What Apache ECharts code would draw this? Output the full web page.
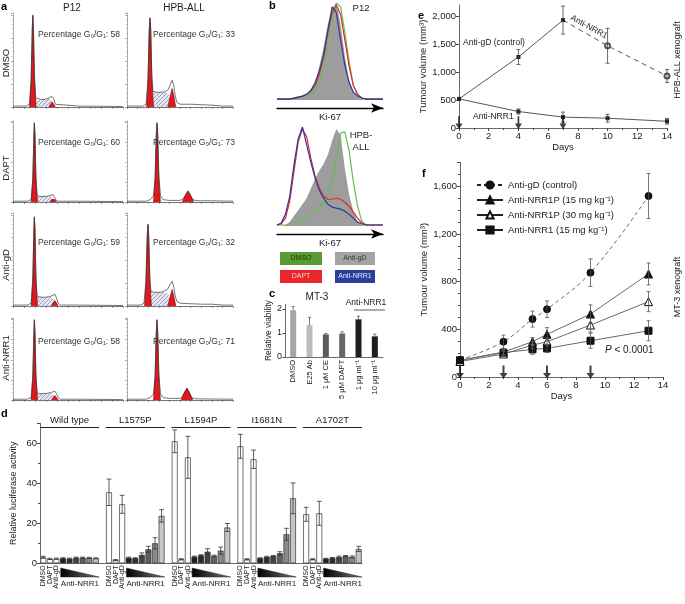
<!DOCTYPE html>
<html><head><meta charset="utf-8">
<script src="https://cdn.jsdelivr.net/npm/echarts@6/dist/echarts.min.js"></script>
<style>html,body{margin:0;padding:0;background:#fff}#c{width:685px;height:604px}</style>
</head><body><div id="c"></div><script>
// ===== Panel a: cell-cycle histograms (channel, count %) =====
const aCols = ['P12', 'HPB-ALL'];
const aRows = ['DMSO', 'DAPT', 'Anti-gD', 'Anti-NRR1'];
const aPctP12 = [58, 60, 59, 58];
const aPctHPB = [33, 73, 32, 71];

const P12_DMSO_line = [[0,1],[12,1],[15,3],[16.5,30],[17.5,85],[18,100],[18.6,85],[19.5,35],[20.5,10],[22,8],[26,8],[30,8.5],[33,10],[35.5,11.5],[37,9],[38.5,3],[40,1],[60,1],[100,0.5]];
const P12_DMSO_g1 = [[15,0],[16.5,28],[17.5,83],[18,99],[18.6,83],[19.5,30],[21,0]];
const P12_DMSO_s = [[19.5,0],[20.3,8],[26,8],[30,8.5],[33,9],[35,7],[36.5,3],[37.5,0]];
const P12_DMSO_g2 = [[32.5,0],[34,3],[35.5,5.5],[37,3],[38.5,0]];

const P12_DAPT_line = [[0,1],[13,1],[16.5,3],[18,30],[19,85],[19.4,100],[20,85],[20.8,35],[21.8,9],[24,7],[28,7],[32,7.5],[34.5,8.5],[36.4,9.5],[37.8,7],[39,2.5],[41,1],[60,1],[100,0.5]];
const P12_DAPT_g1 = [[16.5,0],[18,28],[19,83],[19.4,99],[20,83],[20.8,30],[22.3,0]];
const P12_DAPT_s = [[21,0],[21.8,7],[28,7],[32,7.3],[34.5,7.5],[36,5.5],[37.5,2],[38.5,0]];
const P12_DAPT_g2 = [[33.5,0],[35,3],[36.4,5],[38,3],[39.5,0]];

const P12_gD_line = [[0,1],[13,1],[16.5,3],[18,30],[19,85],[19.4,98],[20,85],[20.8,35],[21.8,11],[24,10],[28,9.5],[32,10],[35,11],[38,13],[39.5,9],[41,3],[43,1],[60,1],[100,0.5]];
const P12_gD_g1 = [[16.5,0],[18,28],[19,83],[19.4,97],[20,83],[20.8,30],[22.3,0]];
const P12_gD_s = [[21,0],[21.8,10],[28,9.5],[32,10],[35,10],[37,7.5],[39,3],[40,0]];
const P12_gD_g2 = [[35,0],[36.5,3.5],[38,6],[39.5,3.5],[41,0]];

const P12_NRR1_line = [[0,1],[13,1],[16.5,3],[18,30],[19,85],[19.4,100],[20,85],[20.8,35],[21.8,9],[24,8],[28,8],[32,8.5],[35,9.5],[38,11],[39.5,8],[41,3],[43,1],[60,1],[100,0.5]];
const P12_NRR1_g1 = [[16.5,0],[18,28],[19,83],[19.4,99],[20,83],[20.8,30],[22.3,0]];
const P12_NRR1_s = [[21,0],[21.8,8],[28,8],[32,8.3],[35,8.5],[37,6],[39,2],[40,0]];
const P12_NRR1_g2 = [[35,0],[36.5,3],[38,5.5],[39.5,3],[41,0]];

const HPB_DMSO_line = [[0,1],[15,1],[18,3],[19.8,30],[21,85],[21.7,97],[22.4,85],[23.4,35],[24.5,17],[28,16],[32,16],[36,16.5],[39,19],[41,25],[42.5,29],[44,24],[45.5,12],[47,5],[50,3],[60,3],[70,2.5],[80,2],[90,1],[100,1]];
const HPB_DMSO_g1 = [[18.5,0],[19.8,28],[21,83],[21.7,96],[22.4,83],[23.4,30],[25,0]];
const HPB_DMSO_s = [[23.5,0],[24.5,16],[28,16],[32,16],[36,16],[39,15],[41,10],[42,4],[42.5,0]];
const HPB_DMSO_g2 = [[38.5,0],[40.5,10],[42.5,20],[44,13],[46,0]];

const HPB_DAPT_line = [[0,1],[18,1],[22,3],[25,8],[26.5,30],[27.6,85],[28.3,100],[29,85],[30,35],[31.5,8],[34,3],[40,2],[50,2],[53,4],[55.5,10],[57.5,14],[59.5,10],[62,3],[66,1.5],[80,1.5],[100,1]];
const HPB_DAPT_g1 = [[25,0],[26.5,28],[27.6,83],[28.3,99],[29,83],[30,30],[31.5,0]];
const HPB_DAPT_s = [];
const HPB_DAPT_g2 = [[52,0],[55,8],[57.5,13.5],[60,8],[63,0]];

const HPB_gD_line = [[0,1],[13,1],[16,3],[17.9,28],[19.1,78],[19.8,90],[20.5,78],[21.5,33],[22.6,16],[26,15],[30,15],[34,15.5],[38,18],[41,24],[42.5,27],[44,22],[45.5,11],[47,5],[50,3],[60,2.5],[70,2],[80,2],[90,1],[100,1]];
const HPB_gD_g1 = [[16.6,0],[17.9,26],[19.1,76],[19.8,89],[20.5,76],[21.5,28],[23,0]];
const HPB_gD_s = [[21.5,0],[22.6,15],[26,15],[30,15],[34,15],[38,14],[41,9],[42.5,0]];
const HPB_gD_g2 = [[38.5,0],[40.5,9],[42.5,18],[44,12],[46,0]];

const HPB_NRR1_line = [[0,1],[18,1],[22,3],[25,8],[26.5,30],[27.6,85],[28.3,100],[29,85],[30,35],[31.5,8],[34,3],[40,2],[50,2],[52,4],[54.5,10],[56.6,15],[58.5,10],[61,3],[65,1.5],[80,1.2],[100,1]];
const HPB_NRR1_g1 = [[25,0],[26.5,28],[27.6,83],[28.3,99],[29,83],[30,30],[31.5,0]];
const HPB_NRR1_s = [];
const HPB_NRR1_g2 = [[51,0],[54,9],[56.6,14.5],[59,9],[62,0]];

// ===== Panel b: Ki-67 histograms =====
const bX = [0,4,8,12,16,20,24,28,32,36,40,44,48,52,56,60,64,68,72,76,80,84,88,92,96,100];
const bP12_antigD = [0,0,0,1,2,3,4,6,10,18,35,55,78,94,100,78,45,20,8,3,1,0,0,0,0,0];
const bP12_DMSO   = [1,1,1,1,1,2,3,4,6,10,18,35,60,85,100,96,70,40,15,5,2,1,1,1,1,1];
const bP12_DAPT   = [1,1,1,1,2,3,4,6,9,15,27,45,70,90,98,88,62,35,15,6,2,1,1,1,1,1];
const bP12_NRR1   = [1,1,1,1,2,3,4,6,10,18,30,46,72,96,90,62,36,18,8,4,2,1,1,1,1,1];
const bHPB_antigD = [0,0,1,4,10,16,22,28,38,48,56,63,72,86,98,92,58,32,15,4,1,0,0,0,0,0];
const bHPB_DMSO   = [1,1,1,1,2,4,6,9,12,15,19,25,33,45,70,94,95,76,45,20,5,1,1,1,1,1];
const bHPB_DAPT   = [1,2,8,25,55,85,98,90,68,50,38,30,27,27,28,27,24,20,14,8,3,1,1,1,1,1];
const bHPB_NRR1   = [1,3,12,30,62,88,100,82,64,48,36,28,22,19,18,17,15,12,8,4,2,1,1,1,1,1];
const bLegend = ['DMSO', 'Anti-gD', 'DAPT', 'Anti-NRR1'];

// ===== Panel c: MT-3 viability =====
const cCats = ['DMSO', 'E25 Ab', '1 μM CE', '5 μM DAPT', '1 μg ml⁻¹', '10 μg ml⁻¹'];
const cVals = [1.95, 1.33, 0.94, 0.98, 1.57, 0.86];
const cErr  = [0.15, 0.32, 0.04, 0.07, 0.13, 0.09];

// ===== Panel d: luciferase activity =====
const dGroups = ['Wild type', 'L1575P', 'L1594P', 'I1681N', 'A1702T'];
const dConds = ['DMSO', 'DAPT', 'Anti-gD', 'NRR1-1', 'NRR1-2', 'NRR1-3', 'NRR1-4', 'NRR1-5', 'NRR1-6'];
const dWT     = [3.0, 2.2, 2.3, 2.5, 2.3, 2.8, 2.8, 2.7, 2.5];
const dL1575P = [35.5, 1.6, 29.5, 2.8, 2.5, 4.2, 7.0, 10.0, 23.7];
const dL1594P = [61.0, 2.0, 53.0, 3.3, 4.0, 5.8, 3.7, 6.3, 17.9];
const dI1681N = [58.5, 2.0, 52.0, 2.5, 3.2, 3.6, 5.0, 14.5, 32.5];
const dA1702T = [24.5, 2.0, 25.0, 2.3, 2.7, 3.1, 3.6, 3.2, 7.2];
const dWTErr     = [0.5, 0.3, 0.3, 0.3, 0.3, 0.3, 0.3, 0.3, 0.2];
const dL1575PErr = [6.6, 0.3, 4.5, 0.3, 0.3, 1.0, 1.5, 2.8, 3.1];
const dL1594PErr = [5.7, 0.3, 10.5, 0.3, 0.3, 1.5, 0.4, 1.8, 2.0];
const dI1681NErr = [6.0, 0.3, 4.6, 0.3, 0.3, 0.3, 0.8, 3.0, 7.7];
const dA1702TErr = [3.5, 0.3, 6.0, 0.2, 0.2, 0.5, 0.3, 0.5, 1.3];

// ===== Panel e: HPB-ALL xenograft =====
const eCtrlDays = [0, 4, 7];
const eCtrlVals = [520, 1270, 1930];
const eCtrlErr  = [0, 135, 250];
const eSwitchDays = [7, 10, 14];
const eSwitchVals = [1930, 1470, 930];
const eSwitchErr  = [0, 312, 116];
const eNrrDays = [0, 4, 7, 10, 14];
const eNrrVals = [520, 295, 195, 175, 120];
const eNrrErr  = [0, 45, 90, 70, 50];
const eDoseDays = [0, 4, 7];

// ===== Panel f: MT-3 xenograft =====
const fDays = [0, 3, 5, 6, 9, 13];
const fCtrl   = [142, 296, 486, 568, 875, 1518];
const fCtrlErr= [0, 55, 67, 70, 116, 189];
const fP15    = [140, 210, 296, 358, 528, 864];
const fP15Err = [0, 20, 35, 56, 77, 92];
const fP30    = [130, 193, 268, 296, 436, 632];
const fP30Err = [0, 20, 30, 35, 60, 84];
const fN15    = [140, 204, 232, 240, 304, 388];
const fN15Err = [0, 20, 42, 35, 63, 84];
const fNames = ['Anti-gD (control)', 'Anti-NRR1P (15 mg kg⁻¹)', 'Anti-NRR1P (30 mg kg⁻¹)', 'Anti-NRR1 (15 mg kg⁻¹)'];
const fDoseDays = [0, 3, 6, 9];

// ================= build =================
const FONT = 'Liberation Sans, Arial, Helvetica, sans-serif';
const chart = echarts.init(document.getElementById('c'));
const grids = [], xAxes = [], yAxes = [], series = [], graphics = [];
function addGrid(g, x, y) {
  grids.push(Object.assign({ outerBoundsMode: 'none', containLabel: false, show: false }, g));
  const i = grids.length - 1; x.gridIndex = i; y.gridIndex = i; xAxes.push(x); yAxes.push(y); return i;
}
function txt(x, y, text, o) {
  o = o || {};
  graphics.push({ type: 'text', x: x, y: y, rotation: o.rot || 0, silent: true, z: 100,
    style: { text: text, font: (o.bold ? 'bold ' : '') + (o.italic ? 'italic ' : '') + (o.size || 9) + 'px ' + FONT,
      fill: o.color || '#222', textAlign: o.align || 'left', textVerticalAlign: o.va || 'middle', lineHeight: o.lh } });
}
function errSeries(ai, pts, cap, color, lowerCap, lw) {
  return { type: 'custom', xAxisIndex: ai, yAxisIndex: ai, data: pts, silent: true, z: 6, clip: false,
    renderItem: function (p, api) {
      const x = api.value(0), lo = api.value(1), hi = api.value(2);
      const a = api.coord([x, hi]), b = api.coord([x, lo]);
      const st = { stroke: color, lineWidth: lw || 0.8 };
      const ch = [{ type: 'line', shape: { x1: a[0], y1: a[1], x2: b[0], y2: b[1] }, style: st },
                  { type: 'line', shape: { x1: a[0] - cap, y1: a[1], x2: a[0] + cap, y2: a[1] }, style: st }];
      if (lowerCap) ch.push({ type: 'line', shape: { x1: b[0] - cap, y1: b[1], x2: b[0] + cap, y2: b[1] }, style: st });
      return { type: 'group', children: ch };
    } };
}
// hatch pattern
const hc = document.createElement('canvas'); hc.width = 4; hc.height = 4;
(function () { const g = hc.getContext('2d'); g.fillStyle = '#e6e6f3'; g.fillRect(0, 0, 4, 4);
  g.strokeStyle = '#8e8eb6'; g.lineWidth = 0.8; g.beginPath(); g.moveTo(0, 4); g.lineTo(4, 0); g.stroke(); })();

// ---- panel a ----
const aHist = [
  [P12_DMSO_line, P12_DMSO_g1, P12_DMSO_s, P12_DMSO_g2, HPB_DMSO_line, HPB_DMSO_g1, HPB_DMSO_s, HPB_DMSO_g2],
  [P12_DAPT_line, P12_DAPT_g1, P12_DAPT_s, P12_DAPT_g2, HPB_DAPT_line, HPB_DAPT_g1, HPB_DAPT_s, HPB_DAPT_g2],
  [P12_gD_line, P12_gD_g1, P12_gD_s, P12_gD_g2, HPB_gD_line, HPB_gD_g1, HPB_gD_s, HPB_gD_g2],
  [P12_NRR1_line, P12_NRR1_g1, P12_NRR1_s, P12_NRR1_g2, HPB_NRR1_line, HPB_NRR1_g1, HPB_NRR1_s, HPB_NRR1_g2]
];
const colLeft = [13, 127], colWidth = [110, 106];
const rowTop = [13, 121, 213, 318], rowBot = [107, 202, 306, 400];
const aAxisStyle = { color: '#555', width: 0.8 };
for (let r = 0; r < 4; r++) for (let c = 0; c < 2; c++) {
  const gi = addGrid({ left: colLeft[c], width: colWidth[c], top: rowTop[r], height: rowBot[r] - rowTop[r] },
    { type: 'value', min: 0, max: 100, interval: 10, axisLine: { lineStyle: aAxisStyle },
      axisTick: { length: 2, lineStyle: { color: '#555', width: 0.6 } },
      minorTick: { show: true, splitNumber: 2, length: 1.5, lineStyle: { color: '#777', width: 0.5 } },
      axisLabel: { show: false }, splitLine: { show: false } },
    { type: 'value', min: 0, max: 102, interval: 25, axisLine: { show: true, lineStyle: { color: '#888', width: 0.7 } },
      axisTick: { show: true, length: 2, lineStyle: { color: '#777', width: 0.6 } },
      minorTick: { show: true, splitNumber: 5, length: 1.2, lineStyle: { color: '#999', width: 0.5 } },
      axisLabel: { show: false }, splitLine: { show: false } });
  const h = aHist[r]; const o = c * 4;
  series.push({ type: 'line', xAxisIndex: gi, yAxisIndex: gi, data: h[o + 2], symbol: 'none', silent: true, z: 1,
    lineStyle: { width: 0 }, areaStyle: { color: { image: hc, repeat: 'repeat' }, opacity: 1 } });
  [h[o + 1], h[o + 3]].forEach(function (d) {
    series.push({ type: 'line', xAxisIndex: gi, yAxisIndex: gi, data: d, symbol: 'none', silent: true, z: 2,
      lineStyle: { color: '#6a0c0c', width: 0.6 }, areaStyle: { color: '#e2181f', opacity: 1 } });
  });
  series.push({ type: 'line', xAxisIndex: gi, yAxisIndex: gi, data: h[o], symbol: 'none', silent: true, z: 3,
    lineStyle: { color: '#3a3a3a', width: 0.7 } });
  const pct = c === 0 ? aPctP12[r] : aPctHPB[r];
  txt(c === 0 ? 38 : 153, [35, 143, 243, 342][r], 'Percentage G₀/G₁: ' + pct, { size: 8.5, color: '#333' });
}
txt(1, 7, 'a', { bold: true, size: 11, color: '#000' });
txt(72, 8, aCols[0], { align: 'center', size: 10 });
txt(184, 8, aCols[1], { align: 'center', size: 10 });
[63, 168, 265, 358].forEach(function (y, i) { txt(6, y, aRows[i], { align: 'center', rot: Math.PI / 2, size: 9.5 }); });

// ---- panel b ----
const bColors = { DMSO: '#67bd47', antigD: '#9d9d9d', DAPT: '#e5262d', NRR1: '#2b3a9b' };
function bPanel(top, bottom, gd, dm, da, nr) {
  const gi = addGrid({ left: 277, width: 106, top: top, height: bottom - top },
    { type: 'value', min: 0, max: 100, offset: 8, axisTick: { show: false }, axisLabel: { show: false }, splitLine: { show: false },
      axisLine: { show: true, onZero: false, symbol: ['none', 'arrow'], symbolSize: [7, 12], lineStyle: { color: '#000', width: 1.3 } },
      name: 'Ki-67', nameLocation: 'middle', nameGap: 4, nameTextStyle: { fontSize: 9.5, color: '#222', fontFamily: FONT } },
    { type: 'value', min: 0, max: 100, show: false });
  const pts = function (arr) { return bX.map(function (x, i) { return [x, arr[i]]; }); };
  series.push({ type: 'line', xAxisIndex: gi, yAxisIndex: gi, data: pts(gd), symbol: 'none', silent: true,
    lineStyle: { width: 0 }, areaStyle: { color: bColors.antigD, opacity: 1 }, z: 1 });
  [[dm, bColors.DMSO], [da, bColors.DAPT], [nr, bColors.NRR1]].forEach(function (p, k) {
    series.push({ type: 'line', xAxisIndex: gi, yAxisIndex: gi, data: pts(p[0]), symbol: 'none', silent: true,
      lineStyle: { color: p[1], width: 1.2 }, z: 2 + k });
  });
}
bPanel(3, 100, bP12_antigD, bP12_DMSO, bP12_DAPT, bP12_NRR1);
bPanel(127, 226, bHPB_antigD, bHPB_DMSO, bHPB_DAPT, bHPB_NRR1);
txt(269, 6, 'b', { bold: true, size: 11, color: '#000' });
txt(361, 8, 'P12', { align: 'center', size: 9.5 });
txt(361, 135, 'HPB-', { align: 'center', size: 9.5 });
txt(361, 147, 'ALL', { align: 'center', size: 9.5 });
const bBoxes = [[280, 252, 42, '#5a9c34', '#183808'], [335, 252, 40, '#a3a3a3', '#333'], [280, 270, 42, '#e8262b', '#ffd6d6'], [335, 270, 40, '#2b3f9a', '#e4e6ff']];
bBoxes.forEach(function (b, i) {
  graphics.push({ type: 'rect', shape: { x: b[0], y: b[1], width: b[2], height: 13 }, style: { fill: b[3] }, silent: true });
  txt(b[0] + b[2] / 2, b[1] + 6.5, bLegend[i], { align: 'center', size: 7, color: b[4] });
});

// ---- panel c ----
const cColors = ['#a6a6a6', '#bcbcbc', '#5c5c5c', '#676767', '#1e1e1e', '#1e1e1e'];
const cI = addGrid({ left: 285, width: 98, top: 304.2, height: 52.8 },
  { type: 'category', data: cCats, axisLine: { lineStyle: { color: '#444', width: 0.8 } }, axisTick: { show: false },
    axisLabel: { rotate: 90, interval: 0, fontSize: 7.5, margin: 3, color: '#222', fontFamily: FONT } },
  { type: 'value', min: 0, max: 2.2, interval: 1, splitLine: { show: false },
    axisLine: { show: true, lineStyle: { color: '#444', width: 0.8 } }, axisTick: { show: true, length: 2.5 },
    axisLabel: { fontSize: 9, margin: 3, color: '#222', showMaxLabel: false, fontFamily: FONT },
    name: 'Relative viability', nameLocation: 'middle', nameGap: 10, nameTextStyle: { fontSize: 8.5, color: '#222', fontFamily: FONT } });
series.push({ type: 'bar', xAxisIndex: cI, yAxisIndex: cI, barWidth: 6, silent: true,
  data: cVals.map(function (v, i) { return { value: v, itemStyle: { color: cColors[i] } }; }) });
series.push(errSeries(cI, cVals.map(function (v, i) { return [i, v, v + cErr[i]]; }), 1.6, '#555', false, 0.8));
txt(269, 294, 'c', { bold: true, size: 11, color: '#000' });
txt(317, 297, 'MT-3', { align: 'center', size: 10 });
txt(366, 303, 'Anti-NRR1', { align: 'center', size: 8.5 });
graphics.push({ type: 'line', shape: { x1: 354, y1: 310, x2: 385, y2: 310 }, style: { stroke: '#333', lineWidth: 0.8 }, silent: true });

// ---- panel d ----
const dVals = [dWT, dL1575P, dL1594P, dI1681N, dA1702T];
const dErrs = [dWTErr, dL1575PErr, dL1594PErr, dI1681NErr, dA1702TErr];
const dColors = ['#ffffff', '#ffffff', '#ffffff', '#1c1c1c', '#2c2c2c', '#444444', '#606060', '#8a8a8a', '#c6c6c6'];
const dCats = [], dBar = [], dErr = [];
for (let g = 0; g < dGroups.length; g++) {
  for (let i = 0; i < 9; i++) {
    const idx = dCats.length; dCats.push(String(idx));
    dBar.push({ value: dVals[g][i], itemStyle: { color: dColors[i], borderColor: '#333', borderWidth: 0.7 } });
    dErr.push([idx, dVals[g][i] - dErrs[g][i], dVals[g][i] + dErrs[g][i]]);
  }
  if (g < dGroups.length - 1) { dCats.push(String(dCats.length)); dBar.push('-'); }
}
const dI = addGrid({ left: 40, width: 322, top: 423.3, height: 140 },
  { type: 'category', data: dCats, axisLine: { lineStyle: { color: '#444', width: 0.8 } }, axisTick: { show: false },
    axisLabel: { rotate: 90, interval: 0, fontSize: 7, margin: 2, color: '#222', fontFamily: FONT,
      formatter: function (v, i) { const k = i % 10; return k < 3 ? dConds[k] : ''; } } },
  { type: 'value', min: 0, max: 70, interval: 20, splitLine: { show: false },
    axisLine: { show: true, lineStyle: { color: '#444', width: 0.8 } }, axisTick: { show: true, length: 3 },
    minorTick: { show: true, splitNumber: 2, length: 2 },
    axisLabel: { fontSize: 9.5, margin: 3, color: '#222', showMaxLabel: false, fontFamily: FONT },
    name: 'Relative luciferase activity', nameLocation: 'middle', nameGap: 22, nameTextStyle: { fontSize: 9, color: '#222', fontFamily: FONT } });
series.push({ type: 'bar', xAxisIndex: dI, yAxisIndex: dI, barCategoryGap: '10%', silent: true, data: dBar });
series.push(errSeries(dI, dErr, 2.4, '#333', true, 0.8));
txt(1, 414, 'd', { bold: true, size: 11, color: '#000' });

// ---- panel e ----
const eI = addGrid({ left: 459, width: 208, top: 5, height: 123 },
  { type: 'value', min: 0, max: 14, interval: 2, splitLine: { show: false },
    axisLine: { lineStyle: { color: '#444', width: 0.8 } }, axisTick: { length: 3 }, minorTick: { show: true, splitNumber: 2, length: 2 },
    axisLabel: { fontSize: 9.5, margin: 3, color: '#222', fontFamily: FONT },
    name: 'Days', nameLocation: 'middle', nameGap: 14, nameTextStyle: { fontSize: 9.5, color: '#222', fontFamily: FONT } },
  { type: 'value', min: 0, max: 2200, interval: 500, splitLine: { show: false },
    axisLine: { show: true, lineStyle: { color: '#444', width: 0.8 } }, axisTick: { show: true, length: 3 },
    axisLabel: { fontSize: 9.5, margin: 3, color: '#222', showMaxLabel: false, fontFamily: FONT,
      formatter: function (v) { return v.toLocaleString('en-US'); } },
    name: 'Tumour volume (mm³)', nameLocation: 'middle', nameGap: 30, nameTextStyle: { fontSize: 9.5, color: '#222', fontFamily: FONT } });
const zip = function (xs, ys) { return xs.map(function (x, i) { return [x, ys[i]]; }); };
series.push({ type: 'line', xAxisIndex: eI, yAxisIndex: eI, name: 'e-ctrl', data: zip(eCtrlDays, eCtrlVals), symbol: 'rect', symbolSize: 4,
  itemStyle: { color: '#222' }, lineStyle: { color: '#555', width: 1 }, z: 4 });
series.push({ type: 'line', xAxisIndex: eI, yAxisIndex: eI, name: 'e-switch',
  data: eSwitchDays.map(function (d, i) { return { value: [d, eSwitchVals[i]], symbol: i === 0 ? 'none' : 'emptyCircle' }; }),
  symbolSize: 5, itemStyle: { color: '#555', borderWidth: 1 }, lineStyle: { color: '#555', width: 1, type: [5, 4] }, z: 4 });
series.push({ type: 'line', xAxisIndex: eI, yAxisIndex: eI, name: 'e-nrr', data: zip(eNrrDays, eNrrVals), symbol: 'rect', symbolSize: 4,
  itemStyle: { color: '#222' }, lineStyle: { color: '#555', width: 1 }, z: 4 });
series.push(errSeries(eI, eCtrlDays.map(function (d, i) { return [d, eCtrlVals[i] - eCtrlErr[i], eCtrlVals[i] + eCtrlErr[i]]; }).slice(1), 2, '#444', true));
series.push(errSeries(eI, eSwitchDays.map(function (d, i) { return [d, eSwitchVals[i] - eSwitchErr[i], eSwitchVals[i] + eSwitchErr[i]]; }).slice(1), 2, '#444', true));
series.push(errSeries(eI, eNrrDays.map(function (d, i) { return [d, eNrrVals[i] - eNrrErr[i], eNrrVals[i] + eNrrErr[i]]; }).slice(1), 2, '#444', true));
const ARROW = 'path://M3,0 L5,0 L5,8 L8,8 L4,14 L0,8 L3,8 Z';
series.push({ type: 'scatter', xAxisIndex: eI, yAxisIndex: eI, data: eDoseDays.map(function (d) { return [d, 95]; }),
  symbol: ARROW, symbolSize: [7, 13], itemStyle: { color: '#111' }, silent: true, z: 8 });
txt(418, 16, 'e', { bold: true, size: 11, color: '#000' });
txt(463, 43, 'Anti-gD (control)', { size: 8.5 });
txt(473, 117, 'Anti-NRR1', { size: 8.5 });
txt(589, 27, 'Anti-NRR1', { align: 'center', size: 8.5, rot: -0.5 });
txt(678, 60, 'HPB-ALL xenograft', { align: 'center', size: 9, rot: Math.PI / 2 });

// ---- panel f ----
const fI = addGrid({ left: 460, width: 203, top: 162.4, height: 214.6 },
  { type: 'value', min: 0, max: 14, interval: 2, splitLine: { show: false },
    axisLine: { lineStyle: { color: '#444', width: 0.8 } }, axisTick: { length: 3 }, minorTick: { show: true, splitNumber: 2, length: 2 },
    axisLabel: { fontSize: 9.5, margin: 3, color: '#222', fontFamily: FONT },
    name: 'Days', nameLocation: 'middle', nameGap: 14, nameTextStyle: { fontSize: 9.5, color: '#222', fontFamily: FONT } },
  { type: 'value', min: 0, max: 1800, interval: 400, splitLine: { show: false },
    axisLine: { show: true, lineStyle: { color: '#444', width: 0.8 } }, axisTick: { show: true, length: 3 },
    minorTick: { show: true, splitNumber: 4, length: 2 },
    axisLabel: { fontSize: 9.5, margin: 3, color: '#222', showMaxLabel: false, fontFamily: FONT,
      formatter: function (v) { return v.toLocaleString('en-US'); } },
    name: 'Tumour volume (mm³)', nameLocation: 'middle', nameGap: 31, nameTextStyle: { fontSize: 9.5, color: '#222', fontFamily: FONT } });
const fSets = [
  [fNames[0], fCtrl, fCtrlErr, 'circle', 7, '#111', '#111', [4, 3], true],
  [fNames[1], fP15, fP15Err, 'triangle', 8, '#111', '#111', 'solid', false],
  [fNames[2], fP30, fP30Err, 'triangle', 8, '#fff', '#111', 'solid', false],
  [fNames[3], fN15, fN15Err, 'rect', 7, '#111', '#111', 'solid', false]
];
fSets.forEach(function (s) {
  series.push({ type: 'line', name: s[0], xAxisIndex: fI, yAxisIndex: fI, data: zip(fDays, s[1]), smooth: s[8] ? 0.4 : false,
    symbol: s[3], symbolSize: s[4], itemStyle: { color: s[5], borderColor: s[6], borderWidth: 1 },
    lineStyle: { color: '#6a6a6a', width: 1, type: s[7] }, z: 4 });
  series.push(errSeries(fI, fDays.map(function (d, i) { return [d, s[1][i] - s[2][i], s[1][i] + s[2][i]]; }).slice(1), 2, '#555', true));
});
series.push({ type: 'scatter', xAxisIndex: fI, yAxisIndex: fI, data: fDoseDays.map(function (d) { return [d, 42]; }),
  symbol: ARROW, symbolSize: [8, 13], itemStyle: { color: '#111' }, silent: true, z: 8 });
txt(422, 174, 'f', { bold: true, size: 11, color: '#000' });
graphics.push({ type: 'text', x: 605, y: 350, silent: true, z: 100,
  style: { text: '{i|P} < 0.0001', font: '10px ' + FONT, fill: '#222', textVerticalAlign: 'middle',
    rich: { i: { fontStyle: 'italic', fontSize: 10, fontFamily: FONT } } } });
txt(678, 287, 'MT-3 xenograft', { align: 'center', size: 9, rot: Math.PI / 2 });

const option = {
  animation: false,
  textStyle: { fontFamily: FONT },
  grid: grids, xAxis: xAxes, yAxis: yAxes, series: series,
  legend: { data: fNames.map(function (n, i) { return { name: n, lineStyle: { width: 2, color: '#222' } }; }),
    orient: 'vertical', left: 471, top: 175, itemGap: 5, itemWidth: 26, itemHeight: 9,
    textStyle: { fontSize: 9.5, color: '#222', fontFamily: FONT }, selectedMode: false },
  graphic: graphics
};
chart.setOption(option);

// ---- panel d headers & wedges (positions from the axis) ----
const extra = [];
for (let g = 0; g < dGroups.length; g++) {
  const x0 = chart.convertToPixel({ xAxisIndex: dI }, g * 10);
  const x8 = chart.convertToPixel({ xAxisIndex: dI }, g * 10 + 8);
  const sw = (x8 - x0) / 8;
  const l = x0 - sw / 2, r = x8 + sw / 2;
  extra.push({ type: 'line', shape: { x1: l, y1: 427.5, x2: r, y2: 427.5 }, style: { stroke: '#222', lineWidth: 1 }, silent: true });
  extra.push({ type: 'text', x: (l + r) / 2, y: 420, silent: true,
    style: { text: dGroups[g], font: '9.5px ' + FONT, fill: '#222', textAlign: 'center', textVerticalAlign: 'middle' } });
  const w0 = x0 + 2.5 * sw + 1, w1 = r;
  extra.push({ type: 'polygon', shape: { points: [[w0, 568], [w1, 577], [w0, 577]] }, silent: true,
    style: { fill: new echarts.graphic.LinearGradient(0, 0, 1, 0, [{ offset: 0, color: '#000' }, { offset: 1, color: '#777' }]), stroke: '#222', lineWidth: 0.5 } });
  extra.push({ type: 'text', x: (w0 + w1) / 2, y: 584, silent: true,
    style: { text: 'Anti-NRR1', font: '8px ' + FONT, fill: '#222', textAlign: 'center', textVerticalAlign: 'middle' } });
}
chart.setOption({ graphic: graphics.concat(extra) });
</script></body></html>
